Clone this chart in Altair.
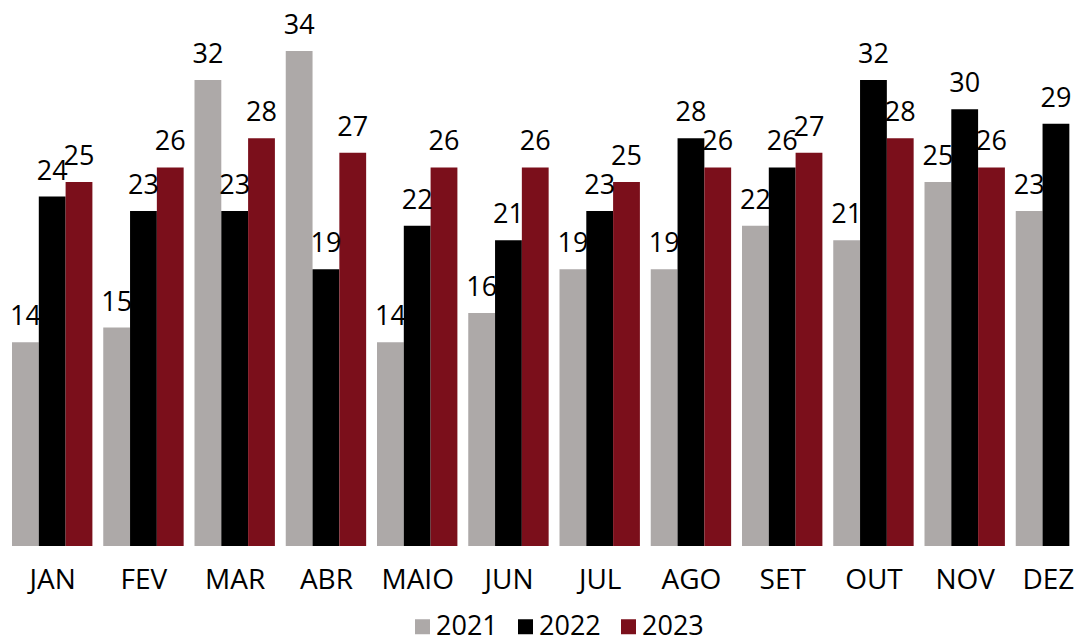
import altair as alt
import pandas as pd

months = ["JAN", "FEV", "MAR", "ABR", "MAIO", "JUN", "JUL", "AGO", "SET", "OUT", "NOV", "DEZ"]
years = ["2021", "2022", "2023"]
v2021 = [14, 15, 32, 34, 14, 16, 19, 19, 22, 21, 25, 23]
v2022 = [24, 23, 23, 19, 22, 21, 23, 28, 26, 32, 30, 29]
v2023 = [25, 26, 28, 27, 26, 26, 25, 26, 27, 28, 26, None]
colors = ["#ADA9A8", "#000000", "#7B0F1B"]

FONT = "Open Sans"
FS = 27
FSX = 28
W = 1068
STEP = 91.25         # pixels per month group
BW = 26.8 / STEP     # bar width in month units
X0 = -44.2 / STEP    # domain start so JAN centre sits at 44.2 px
X1 = X0 + W / STEP

rows = []
for yi, (yr, vals) in enumerate(zip(years, [v2021, v2022, v2023])):
    for mi, (m, v) in enumerate(zip(months, vals)):
        if v is not None:
            rows.append({"mes": m, "mi": mi, "ano": yr, "yi": yi, "valor": v})
df = pd.DataFrame(rows)

month_expr = "[" + ",".join(f"'{m}'" for m in months) + "][datum.value]"

xscale = alt.Scale(domain=[X0, X1], nice=False, zero=False)
xaxis = alt.Axis(
    title=None, domain=False, ticks=False, grid=False,
    values=list(range(len(months))), labelExpr=month_expr,
    labelFontSize=FSX, labelFont=FONT, labelColor="#000000",
    labelAngle=0, labelPadding=42, labelBaseline="alphabetic",
    labelFlush=False, labelOverlap=False,
    labelOffset=alt.ExprRef(f"datum.value == {len(months) - 1} ? -8 : 0"),
)
yscale = alt.Scale(domain=[0, 36.95], nice=False)

base = alt.Chart(df).transform_calculate(
    xc=f"datum.mi + (datum.yi - 1) * {BW}",
    xl=f"datum.mi + (datum.yi - 1.5) * {BW}",
    xr=f"datum.mi + (datum.yi - 0.5) * {BW}",
)

bars = base.mark_bar().encode(
    x=alt.X("xl:Q", scale=xscale, axis=xaxis),
    x2="xr:Q",
    y=alt.Y("valor:Q", scale=yscale, axis=None),
    y2=alt.datum(0),
    color=alt.Color(
        "ano:N",
        sort=years,
        scale=alt.Scale(domain=years, range=colors),
        legend=alt.Legend(
            title=None, orient="none", direction="horizontal",
            legendX=401, legendY=605,
            symbolType="square", symbolSize=225, symbolStrokeWidth=0,
            labelFontSize=FS, labelFont=FONT, labelColor="#000000",
            labelOffset=0, columnPadding=14, padding=0,
        ),
    ),
)

labels = base.mark_text(
    baseline="alphabetic", dy=-17, fontSize=FS, font=FONT, color="#000000"
).encode(
    x=alt.X("xc:Q", scale=xscale),
    y=alt.Y("valor:Q", scale=yscale),
    text=alt.Text("valor:Q"),
)

chart = (
    alt.layer(bars, labels)
    .properties(
        width=W,
        height=538,
        background="#ffffff",
        autosize=alt.AutoSizeParams(type="none"),
        padding={"left": 0, "top": 0, "right": 0, "bottom": 91},
    )
    .configure_view(strokeWidth=0, stroke="transparent")
)

chart.save("out.html", embed_options={"renderer": "svg", "actions": False})
